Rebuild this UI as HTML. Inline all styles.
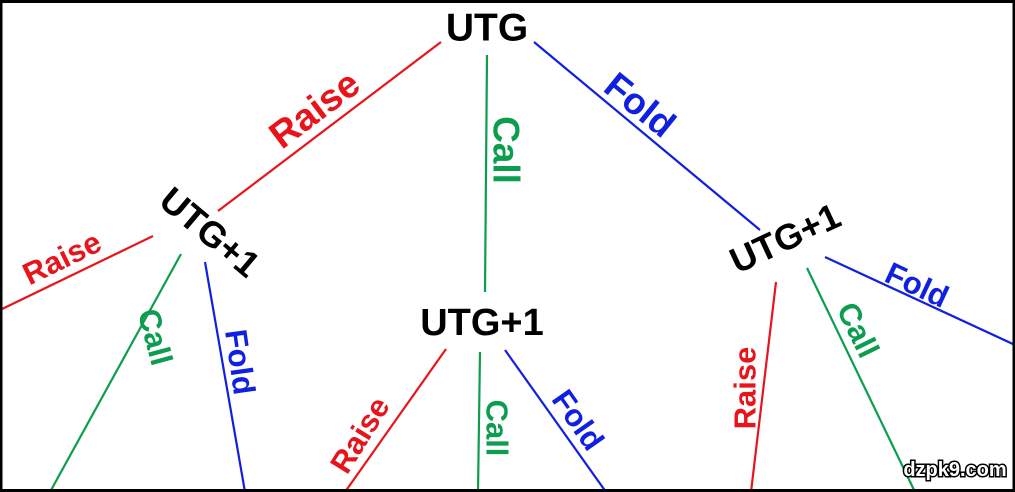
<!DOCTYPE html>
<html><head><style>
html,body{margin:0;padding:0;background:#fff}
svg{display:block}
text{font-family:"Liberation Sans",sans-serif;font-weight:bold}
</style></head><body>
<svg width="1015" height="492" viewBox="0 0 1015 492">
<rect x="0" y="0" width="1015" height="492" fill="#fff"/>
<g stroke-width="2.2" fill="none">
<line x1="441" y1="42" x2="218" y2="211" stroke="#e8141b"/>
<line x1="487" y1="55" x2="485" y2="292" stroke="#0c9d4e"/>
<line x1="534" y1="42" x2="760" y2="230" stroke="#1020e0"/>
<line x1="153" y1="236" x2="0" y2="310" stroke="#e8141b"/>
<line x1="181" y1="254" x2="50" y2="492" stroke="#0c9d4e"/>
<line x1="205" y1="262" x2="245" y2="492" stroke="#1020e0"/>
<line x1="446" y1="349" x2="345" y2="492" stroke="#e8141b"/>
<line x1="480" y1="352" x2="478" y2="492" stroke="#0c9d4e"/>
<line x1="505" y1="350" x2="606" y2="492" stroke="#1020e0"/>
<line x1="776" y1="282" x2="751" y2="492" stroke="#e8141b"/>
<line x1="807" y1="268" x2="915" y2="492" stroke="#0c9d4e"/>
<line x1="825" y1="257" x2="1015" y2="345" stroke="#1020e0"/>
</g>
<g text-anchor="middle" dominant-baseline="central">
<text x="487" y="28" font-size="39" fill="#000">UTG</text>
<text x="210" y="232" font-size="36" fill="#000" transform="rotate(40 210 232)">UTG+1</text>
<text x="482" y="323" font-size="38" fill="#000">UTG+1</text>
<text x="785" y="238" font-size="36" fill="#000" transform="rotate(-25 785 238)">UTG+1</text>

<text x="315" y="110" font-size="38" fill="#e8141b" transform="rotate(-37 315 110)">Raise</text>
<text x="506" y="150" font-size="37" fill="#0c9d4e" transform="rotate(90 506 150)">Call</text>
<text x="640" y="105" font-size="37" fill="#1020e0" transform="rotate(39 640 105)">Fold</text>

<text x="62" y="258" font-size="31" fill="#e8141b" transform="rotate(-26 62 258)">Raise</text>
<text x="155" y="337" font-size="31" fill="#0c9d4e" transform="rotate(75 155 337)">Call</text>
<text x="240" y="362" font-size="31" fill="#1020e0" transform="rotate(82 240 362)">Fold</text>

<text x="360" y="435" font-size="31" fill="#e8141b" transform="rotate(-58 360 435)">Raise</text>
<text x="497" y="428" font-size="31" fill="#0c9d4e" transform="rotate(90 497 428)">Call</text>
<text x="578" y="420" font-size="31" fill="#1020e0" transform="rotate(55 578 420)">Fold</text>

<text x="745" y="388" font-size="31" fill="#e8141b" transform="rotate(-90 745 388)">Raise</text>
<text x="858" y="330" font-size="31" fill="#0c9d4e" transform="rotate(64 858 330)">Call</text>
<text x="917" y="285" font-size="31" fill="#1020e0" transform="rotate(25 917 285)">Fold</text>

<text x="955" y="470" font-size="20" fill="#fff" stroke="#000" stroke-width="3" paint-order="stroke">dzpk9.com</text>
</g>
<rect x="1" y="1.5" width="1013" height="489" fill="none" stroke="#000" stroke-width="3"/>
</svg>
</body></html>
